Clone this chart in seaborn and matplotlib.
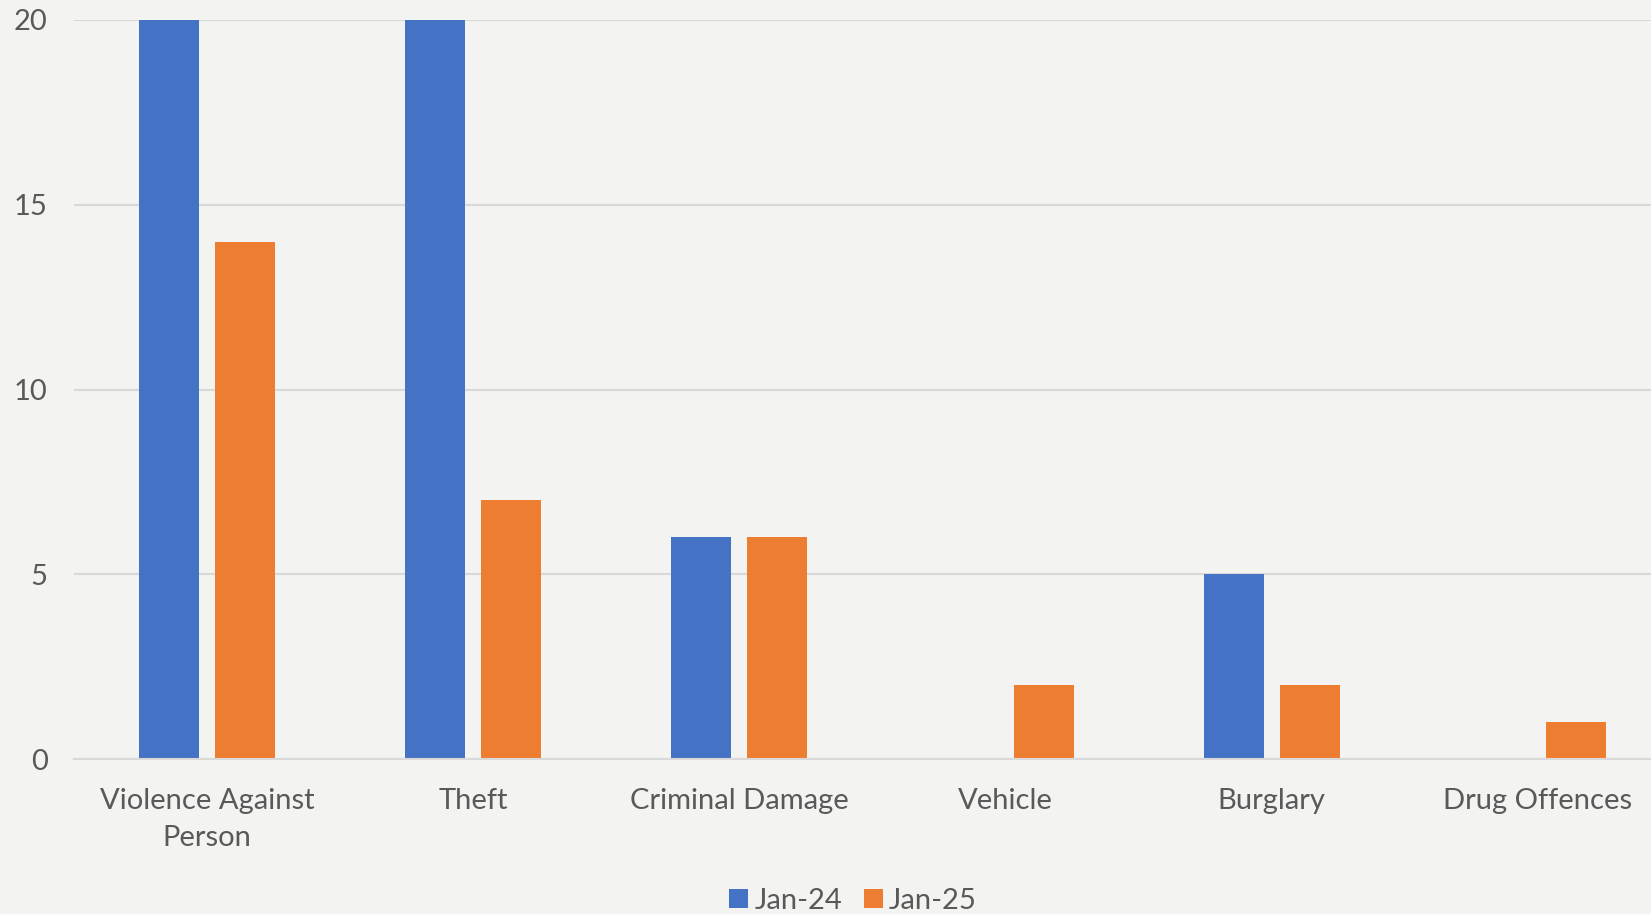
import matplotlib
matplotlib.use("Agg")
import matplotlib.pyplot as plt
import seaborn as sns
import pandas as pd

categories = ["Violence Against\nPerson", "Theft", "Criminal Damage", "Vehicle", "Burglary", "Drug Offences"]
jan24 = [20, 20, 6, 0, 5, 0]
jan25 = [14, 7, 6, 2, 2, 1]
series = ["Jan-24", "Jan-25"]
yticks = [0, 5, 10, 15, 20]

df = pd.DataFrame({
    "category": categories * 2,
    "value": jan24 + jan25,
    "series": [series[0]] * len(categories) + [series[1]] * len(categories),
})

sns.set_theme(style="white")
plt.rcParams["font.family"] = ["Lato", "DejaVu Sans"]

bg = "#F3F3F1"
grey = "#595959"
fig = plt.figure(figsize=(16.51, 9.14), dpi=100, facecolor=bg)
ax = fig.add_axes([74 / 1651, 155 / 914, 1597 / 1651, 739 / 914])
ax.set_facecolor(bg)

sns.barplot(data=df, x="category", y="value", hue="series", order=categories,
            hue_order=series, palette=["#4472C4", "#ED7D31"], width=0.571, gap=0.21,
            saturation=1, linewidth=0, ax=ax, legend=True, zorder=3)

ax.set_ylim(0, 20)
ax.set_xlim(-0.5, len(categories) - 0.5)
ax.set_yticks(yticks)
ax.set_yticklabels([str(t) for t in yticks])
ax.grid(axis="y", color="#D9D9D9", linewidth=1.5, zorder=0)
ax.grid(axis="x", visible=False)
for s in ["top", "left", "right"]:
    ax.spines[s].set_visible(False)
ax.spines["bottom"].set_color("#D9D9D9")
ax.spines["bottom"].set_linewidth(1.5)
ax.spines["bottom"].set_zorder(4)
ax.set_xlabel("")
ax.set_ylabel("")
ax.tick_params(axis="y", length=0, pad=19, labelsize=21, labelcolor=grey)
ax.tick_params(axis="x", length=0, pad=21, labelsize=21, labelcolor=grey)
for lbl in ax.get_xticklabels():
    lbl.set_linespacing(1.5)

h, l = ax.get_legend_handles_labels()
ax.get_legend().remove()
fig.legend(h, l, loc="center", bbox_to_anchor=(853 / 1651, 13 / 914), ncol=2, frameon=False,
           fontsize=21, labelcolor=grey, handlelength=0.65, handleheight=0.65, handletextpad=0.2,
           columnspacing=0.75)

fig.savefig("out.png", dpi=100, facecolor=bg)
